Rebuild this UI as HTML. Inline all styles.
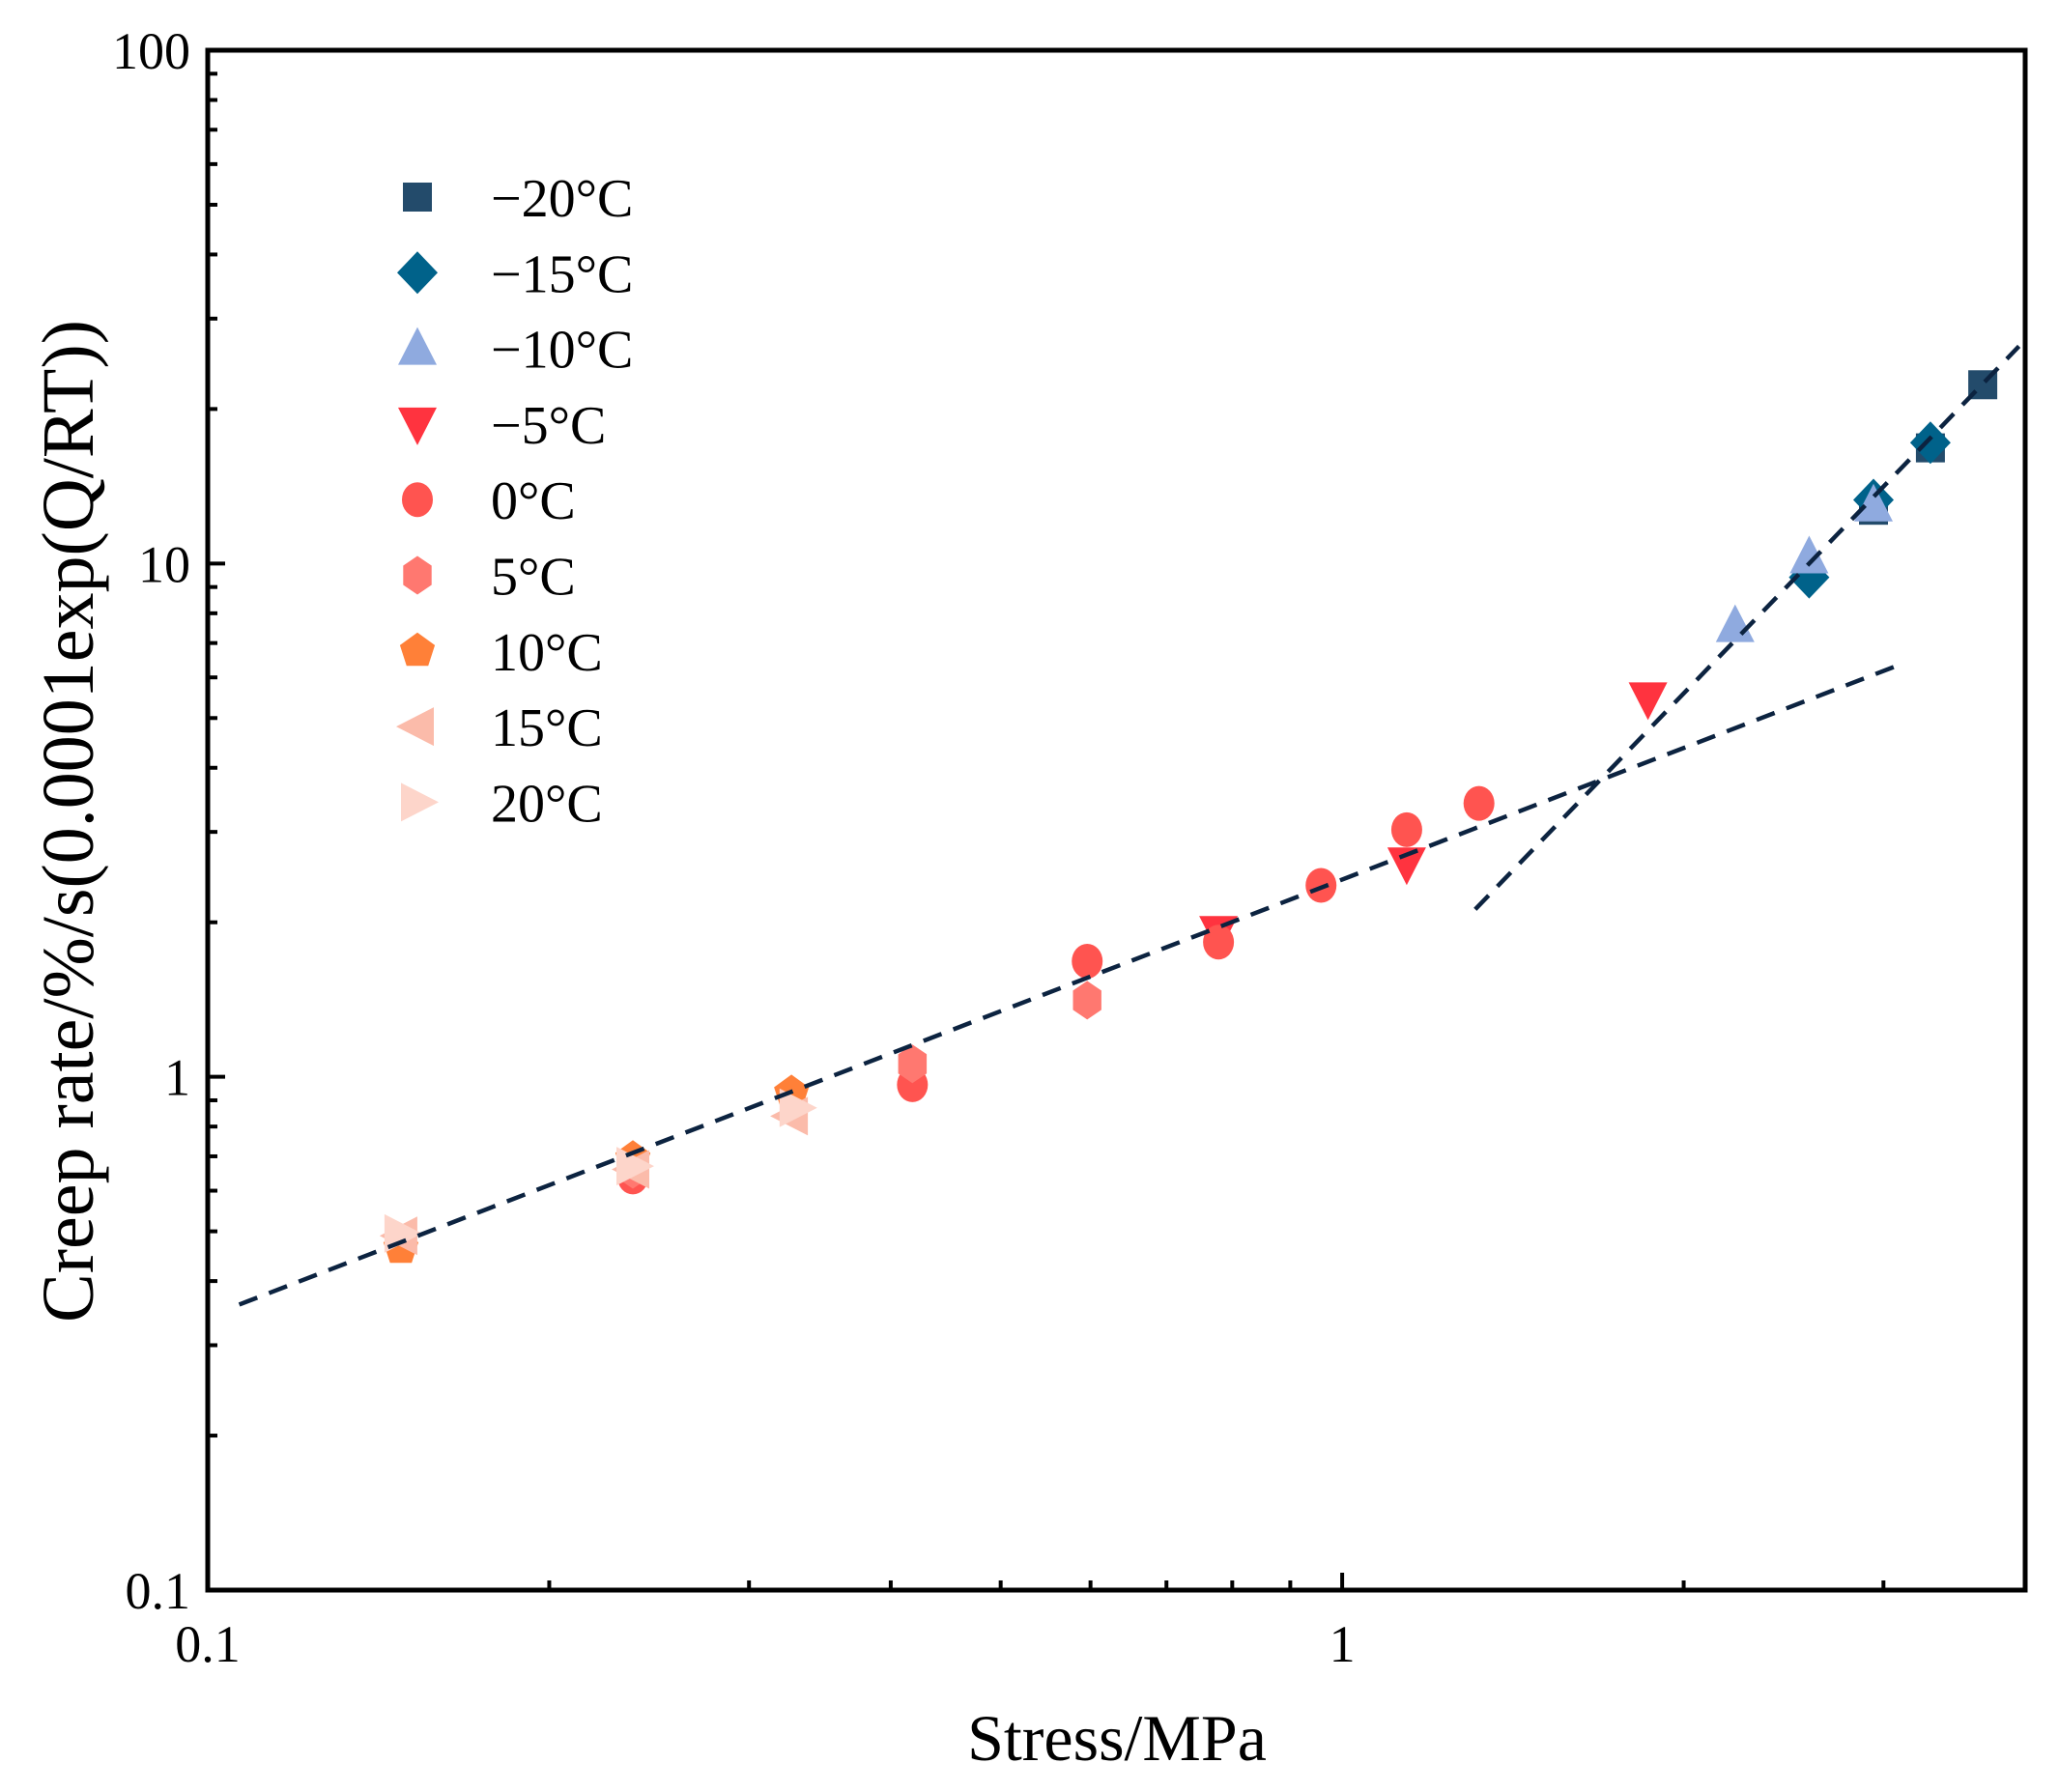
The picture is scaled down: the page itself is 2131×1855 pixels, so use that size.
<!DOCTYPE html>
<html><head><meta charset="utf-8"><style>
html,body{margin:0;padding:0;background:#fff;}
svg{display:block;font-family:"Liberation Serif",serif;}
</style></head><body>
<svg id="chart" width="2131" height="1855" viewBox="0 0 2131 1855" xmlns="http://www.w3.org/2000/svg">
<rect width="2131" height="1855" fill="#fff"/>
<g id="plot"></g>
<text x="1156" y="1822" font-size="68" text-anchor="middle">Stress/MPa</text>
<text transform="translate(96,850) rotate(-90)" font-size="76" text-anchor="middle">Creep rate/%/s(0.0001exp(Q/RT))</text>
</svg>
<script>
const seriesNames = ["\u221220\u00b0C","\u221215\u00b0C","\u221210\u00b0C","\u22125\u00b0C","0\u00b0C","5\u00b0C","10\u00b0C","15\u00b0C","20\u00b0C"];
const seriesX = [
  [3.67, 2.94, 3.30],
  [3.30, 2.94, 2.58],
  [2.94, 2.58, 2.22],
  [1.86, 1.14, 0.778],
  [1.32, 1.14, 0.958, 0.778, 0.596, 0.418, 0.237],
  [0.596, 0.418, 0.237],
  [0.327, 0.237, 0.148],
  [0.327, 0.237, 0.148],
  [0.33, 0.237, 0.148]
];
const seriesY = [
  [22.3, 12.7, 16.8],
  [17.2, 13.3, 9.4],
  [13.0, 10.3, 7.57],
  [5.45, 2.60, 1.91],
  [3.41, 3.03, 2.36, 1.83, 1.68, 0.965, 0.638],
  [1.41, 1.06, 0.66],
  [0.93, 0.693, 0.464],
  [0.838, 0.66, 0.49],
  [0.87, 0.67, 0.495]
];
const fit1X = [0.1066, 3.10];
const fit1Y = [0.360, 6.35];
const fit2X = [1.31, 3.95];
const fit2Y = [2.12, 26.5];
const xTicks = [0.1, 1];
const xTickLabels = ["0.1", "1"];
const yTicks = [0.1, 1, 10, 100];
const yTickLabels = ["0.1", "1", "10", "100"];

const colors = ["#234B6B","#00628A","#8FAADF","#FF333F","#FF5450","#FF7870","#FF8038","#FBBBAA","#FDD5CA"];
const shapes = ["square","diamond","up","down","circle","hex","pent","left","right"];
const L=215,R=2096,T=52,B=1646;
const XMIN=0.1,XMAX=4,YMIN=0.1,YMAX=100;
function sx(v){return L+(Math.log10(v)-Math.log10(XMIN))/(Math.log10(XMAX)-Math.log10(XMIN))*(R-L);}
function sy(v){return B-(Math.log10(v)-Math.log10(YMIN))/(Math.log10(YMAX)-Math.log10(YMIN))*(B-T);}
const NS="http://www.w3.org/2000/svg";
const g=document.getElementById('plot');
function mk(tag,attrs,parent){const e=document.createElementNS(NS,tag);for(const k in attrs)e.setAttribute(k,attrs[k]);(parent||g).appendChild(e);return e;}
function poly(pts){return pts.map(p=>p[0].toFixed(1)+","+p[1].toFixed(1)).join(" ");}
function marker(shape,x,y,c,parent){
  let e;
  if(shape==="square")e=mk('rect',{x:x-15,y:y-15,width:30,height:30,fill:c},parent);
  else if(shape==="circle")e=mk('ellipse',{cx:x,cy:y,rx:16,ry:18,fill:c},parent);
  else if(shape==="diamond")e=mk('polygon',{points:poly([[x,y-22],[x+21,y],[x,y+22],[x-21,y]]),fill:c},parent);
  else if(shape==="up")e=mk('polygon',{points:poly([[x,y-22],[x+20,y+17],[x-20,y+17]]),fill:c},parent);
  else if(shape==="down")e=mk('polygon',{points:poly([[x,y+22],[x+20,y-17],[x-20,y-17]]),fill:c},parent);
  else if(shape==="left")e=mk('polygon',{points:poly([[x-22,y],[x+17,y-20],[x+17,y+20]]),fill:c},parent);
  else if(shape==="right")e=mk('polygon',{points:poly([[x+22,y],[x-17,y-20],[x-17,y+20]]),fill:c},parent);
  else if(shape==="hex"){const p=[];for(let i=0;i<6;i++){const a=Math.PI/2+i*Math.PI/3;p.push([x+17*Math.cos(a),y-20*Math.sin(a)]);}e=mk('polygon',{points:poly(p),fill:c},parent);}
  else if(shape==="pent"){const p=[];for(let i=0;i<5;i++){const a=Math.PI/2+i*2*Math.PI/5;p.push([x+19*Math.cos(a),y-19*Math.sin(a)]);}e=mk('polygon',{points:poly(p),fill:c},parent);}
  return e;
}
const frame=mk('rect',{x:L,y:T,width:R-L,height:B-T,fill:'none',stroke:'#000','stroke-width':5});


for(let d=-1;d<2;d++){for(let m=1;m<10;m++){const v=m*Math.pow(10,d);const y=sy(v);const len=m===1?18:10;
  const t=mk('line',{x1:L,x2:L+len,y1:y,y2:y,stroke:'#000','stroke-width':4});
  
  }}
yTicks.forEach((v,i)=>{const t=mk('text',{x:197,y:sy(v)+19,'font-size':54,'text-anchor':'end'});t.textContent=yTickLabels[i];
  
  });
[0.1,0.2,0.3,0.4,0.5,0.6,0.7,0.8,0.9,1,2,3].forEach(v=>{const x=sx(v);const len=(v===0.1||v===1)?18:10;
  const t=mk('line',{x1:x,x2:x,y1:B,y2:B-len,stroke:'#000','stroke-width':4});
  
  });
xTicks.forEach((v,i)=>{const t=mk('text',{x:sx(v),y:1720,'font-size':54,'text-anchor':'middle'});t.textContent=xTickLabels[i];
  
  });
seriesNames.forEach((n,i)=>{const grp=mk('g',{});
  
  
  seriesX[i].forEach((xv,j)=>{const m=marker(shapes[i],sx(xv),sy(seriesY[i][j]),colors[i],grp);
    
    });});
[[fit1X,fit1Y],[fit2X,fit2Y]].forEach((f,i)=>{const l=mk('line',{x1:sx(f[0][0]),y1:sy(f[1][0]),x2:sx(f[0][1]),y2:sy(f[1][1]),stroke:'#0C2340','stroke-width':4.5,'stroke-dasharray':'20 13'});
  
  });
const lg=mk('g',{});


seriesNames.forEach((n,i)=>{const y=204+i*78.3;
  const m=marker(shapes[i],432,y,colors[i],lg);
  
  
  const t=mk('text',{x:508,y:y+20,'font-size':56},lg);t.textContent=n;
  
  });
</script>
</body></html>
